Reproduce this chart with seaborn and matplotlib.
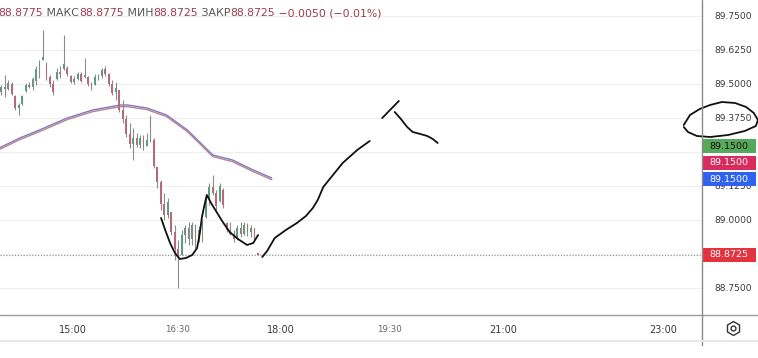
import numpy as np
import pandas as pd
import matplotlib
matplotlib.use("Agg")
import matplotlib.pyplot as plt
import seaborn as sns
from matplotlib.transforms import blended_transform_factory, offset_copy
from matplotlib.lines import Line2D
from matplotlib.patches import Rectangle

# ---------------- data ----------------
candle_start = "13:58"
candle_minutes = 3
opens = [89.4700, 89.4900, 89.4800, 89.5000, 89.4575, 89.4125, 89.4250, 89.4725, 89.4950, 89.4900,
         89.5100, 89.5550, 89.5875, 89.5750, 89.5250, 89.5000, 89.5175, 89.5450, 89.5550, 89.5600,
         89.5300, 89.5075, 89.5200, 89.5375, 89.5250, 89.5275, 89.5000, 89.4975, 89.5175, 89.5300,
         89.5550, 89.5350, 89.5000, 89.4700, 89.4775, 89.4050, 89.3725, 89.3175, 89.2800, 89.3000,
         89.2775, 89.3000, 89.2725, 89.2950, 89.2950, 89.1950, 89.1400, 89.0600, 89.0200, 89.0300,
         88.9575, 88.8950, 88.8725, 88.9450, 88.9700, 88.9300, 88.9800, 88.9200, 88.9650, 89.0100,
         89.0800, 89.1200, 89.1000, 89.0700, 89.1100, 88.9900, 88.9650, 88.9500, 88.9300, 88.9700,
         88.9500, 88.9800, 88.9550, 88.9700, 88.8775]
highs = [89.4975, 89.5325, 89.5150, 89.5075, 89.4600, 89.4300, 89.4600, 89.5025, 89.5075, 89.5250,
         89.5650, 89.5875, 89.6975, 89.5800, 89.5325, 89.5150, 89.5600, 89.5650, 89.6800, 89.5650,
         89.5325, 89.5300, 89.5450, 89.5450, 89.5950, 89.5300, 89.5075, 89.5375, 89.5375, 89.5600,
         89.5650, 89.5400, 89.5150, 89.5075, 89.4775, 89.4400, 89.3850, 89.3575, 89.3375, 89.3200,
         89.3125, 89.3125, 89.3200, 89.3850, 89.3025, 89.1950, 89.1475, 89.1000, 89.0800, 89.0300,
         88.9825, 88.9275, 88.9625, 88.9825, 88.9925, 88.9925, 88.9825, 88.9775, 89.0000, 89.0925,
         89.1350, 89.1650, 89.1100, 89.1350, 89.1175, 88.9925, 88.9925, 88.9625, 88.9825, 88.9925,
         88.9925, 88.9900, 88.9825, 88.9700, 88.8775]
lows = [89.4600, 89.4525, 89.4775, 89.4600, 89.4050, 89.3850, 89.4225, 89.4700, 89.4850, 89.4775,
        89.4950, 89.5225, 89.5875, 89.5150, 89.4900, 89.4600, 89.5150, 89.5225, 89.5525, 89.5300,
        89.5025, 89.5000, 89.5150, 89.5075, 89.5225, 89.4925, 89.4775, 89.4975, 89.5150, 89.5225,
        89.5300, 89.4925, 89.4600, 89.4400, 89.3975, 89.3575, 89.3050, 89.2650, 89.2200, 89.2675,
        89.2650, 89.2575, 89.2725, 89.2875, 89.1900, 89.1175, 89.0375, 89.0000, 89.0075, 88.9450,
        88.8525, 88.7500, 88.8725, 88.9150, 88.9075, 88.9075, 88.8975, 88.9200, 88.9200, 89.0075,
        89.0550, 89.0925, 89.0375, 89.0650, 89.0450, 88.9550, 88.9450, 88.9200, 88.9275, 88.9375,
        88.9450, 88.9400, 88.9375, 88.9275, 88.8725]
closes = [89.4900, 89.4800, 89.5050, 89.4650, 89.4125, 89.4225, 89.4550, 89.4950, 89.4900, 89.5175,
          89.5550, 89.5775, 89.6000, 89.5250, 89.5000, 89.4700, 89.5450, 89.5350, 89.5725, 89.5350,
          89.5075, 89.5200, 89.5375, 89.5125, 89.5325, 89.5000, 89.4850, 89.5275, 89.5325, 89.5525,
          89.5350, 89.5000, 89.4675, 89.4850, 89.4050, 89.3700, 89.3175, 89.2800, 89.3000, 89.2775,
          89.3000, 89.2700, 89.2950, 89.3000, 89.1975, 89.1400, 89.0600, 89.0200, 89.0650, 88.9575,
          88.8950, 88.8700, 88.9450, 88.9700, 88.9300, 88.9800, 88.9200, 88.9650, 88.9900, 89.0800,
          89.1200, 89.1000, 89.0500, 89.1250, 89.0550, 88.9650, 88.9500, 88.9300, 88.9700, 88.9500,
          88.9800, 88.9550, 88.9700, 88.9350, 88.8725]

ma_times = ["13:56", "14:14", "14:31", "14:55", "15:17", "15:41", "15:47", "16:04",
            "16:21", "16:39", "17:01", "17:18", "17:36", "17:52"]
ma_blue = [89.2647, 89.3015, 89.3309, 89.3750, 89.4044, 89.4228, 89.4228, 89.4118,
           89.3860, 89.3309, 89.2390, 89.2206, 89.1838, 89.1544]
ma_red = [89.2587, 89.2955, 89.3249, 89.3690, 89.3984, 89.4168, 89.4168, 89.4058,
          89.3800, 89.3249, 89.2330, 89.2146, 89.1778, 89.1484]

# hand-drawn strokes (hours, price)
cup_t = [16.27, 16.33, 16.40, 16.47, 16.54, 16.63, 16.72, 16.79, 16.83, 16.86, 16.89, 16.93,
         17.00, 17.08, 17.16, 17.26, 17.38, 17.51, 17.60, 17.67]
cup_p = [89.0074, 88.9632, 88.9154, 88.8787, 88.8566, 88.8603, 88.8713, 88.8971, 88.9522, 89.0110,
         89.0478, 89.0919, 89.0588, 89.0257, 88.9926, 88.9559, 88.9301, 88.9081, 88.9154, 88.9449]
rise_t = [17.73, 17.80, 17.91, 18.07, 18.23, 18.36, 18.46, 18.53, 18.61, 18.75, 18.89, 19.10, 19.28]
rise_p = [88.8640, 88.8860, 88.9338, 88.9632, 88.9890, 89.0147, 89.0441, 89.0735, 89.1213,
          89.1654, 89.2096, 89.2574, 89.2904]
tick_t = [19.46, 19.70]
tick_p = [89.3750, 89.4375]
fall_t = [19.64, 19.73, 19.82, 19.90, 20.01, 20.11, 20.19, 20.26]
fall_p = [89.3971, 89.3713, 89.3419, 89.3235, 89.3162, 89.3088, 89.2978, 89.2831]
ring_t = [23.81, 23.90, 24.04, 24.19, 24.36, 24.55, 24.71, 24.82, 24.88, 24.85, 24.69, 24.45,
          24.19, 24.00, 23.87, 23.81]
ring_p = [89.3493, 89.3860, 89.4081, 89.4228, 89.4338, 89.4301, 89.4154, 89.3934, 89.3676,
          89.3456, 89.3272, 89.3125, 89.3051, 89.3088, 89.3235, 89.3419]

y_ticks = [88.75, 88.875, 89.0, 89.125, 89.25, 89.375, 89.5, 89.625, 89.75]
y_tick_labels = ["88.7500", "", "89.0000", "89.1250", "", "89.3750", "89.5000", "89.6250", "89.7500"]
x_tick_pos = [15.0, 16.5, 18.0, 19.57, 21.2, 23.52]
x_tick_labels = ["15:00", "16:30", "18:00", "19:30", "21:00", "23:00"]
minor_time_labels = ["16:30", "19:30"]

last_price = 88.8725
tag_values = ["89.1500", "89.1500", "89.1500"]
tag_price = 89.15

header_parts = ["88.8775", " МАКС", "88.8775", " МИН", "88.8725", " ЗАКР", "88.8725", " −0.0050 (−0.01%)"]
header_is_value = [True, False, True, False, True, False, True, True]

# ---------------- styling ----------------
sns.set_theme(style="white")
plt.rcParams["font.family"] = ["DejaVu Sans"]

W, H = 758, 358
fig = plt.figure(figsize=(W / 100, H / 100), dpi=100)
fig.patch.set_facecolor("white")
ax = fig.add_axes([0, 43 / H, 702 / W, 315 / H])
ax.set_facecolor("white")

t0 = pd.Timestamp("2024-01-01 " + candle_start)
times = pd.date_range(t0, periods=len(opens), freq=f"{candle_minutes}min")
t_hours = times.hour + times.minute / 60.0
df = pd.DataFrame({"t": t_hours, "o": opens, "h": highs, "l": lows, "c": closes})

def to_h(s):
    hh, mm = s.split(":")
    return int(hh) + int(mm) / 60.0

ax.set_xlim(13.947, 24.073)
ax.set_ylim(88.6507, 89.8088)

# grid and ticks
ax.set_yticks(y_ticks)
ax.set_yticklabels(y_tick_labels)
ax.yaxis.tick_right()
ax.grid(axis="y", color="#efefef", lw=0.8)
ax.grid(axis="x", visible=False)
ax.tick_params(axis="y", length=0, pad=9, labelsize=6.6, labelcolor="#3a3a3a")
ax.set_xticks(x_tick_pos)
ax.set_xticklabels(x_tick_labels)
ax.tick_params(axis="x", length=0, pad=7, labelsize=7.0, labelcolor="#3a3a3a")
for lbl in ax.get_xticklabels():
    if lbl.get_text() in minor_time_labels:
        lbl.set_fontsize(6.2)
        lbl.set_color("#666666")
for s in ["top", "left", "bottom", "right"]:
    ax.spines[s].set_visible(False)

# last price dotted line
ax.axhline(last_price, color="#8a8a8a", lw=0.8, ls=(0, (1, 1.6)), zorder=1)

# moving averages
ma_h = [to_h(s) for s in ma_times]
sns.lineplot(x=ma_h, y=ma_blue, ax=ax, color="#7a7ac4", lw=1.0, sort=False, estimator=None, zorder=3)
sns.lineplot(x=ma_h, y=ma_red, ax=ax, color="#b98290", lw=1.0, sort=False, estimator=None, zorder=3)

# candles
ax.vlines(df["t"], df["l"], df["h"], color="#8c8c8c", lw=0.8, zorder=4)
up = df["c"] >= df["o"]
body_bottom = np.minimum(df["o"], df["c"])
body_h = np.maximum(np.abs(df["c"] - df["o"]), 0.002)
colors = np.where(up, "#5e9a80", "#b56a7c")
ax.bar(df["t"], body_h, bottom=body_bottom, width=0.026, color=colors, edgecolor="none", zorder=5)

# hand drawn strokes
for xs, ys in [(cup_t, cup_p), (rise_t, rise_p), (tick_t, tick_p), (fall_t, fall_p)]:
    sns.lineplot(x=xs, y=ys, ax=ax, color="#111111", lw=1.3, sort=False, estimator=None, zorder=8)

# price tags on the scale
blend = blended_transform_factory(ax.transAxes, ax.transData)
px_per_unit = 315 / (89.8088 - 88.6507)
tag_h = 14 / px_per_unit
tag_w = 54 / 702

def price_tag(price, text, face, tc, shift_px):
    tr = offset_copy(blend, fig=fig, x=0, y=shift_px, units="dots")
    ax.add_patch(Rectangle((1.0, price - tag_h / 2), tag_w, tag_h, transform=tr,
                           facecolor=face, edgecolor="none", clip_on=False, zorder=9))
    ax.text(1.0 + tag_w / 2, price, text, transform=tr, ha="center", va="center",
            fontsize=6.8, color=tc, clip_on=False, zorder=10)

price_tag(tag_price, tag_values[2], "#2f62f0", "white", 0)
price_tag(tag_price, tag_values[1], "#d92b5e", "white", 16.5)
price_tag(tag_price, tag_values[0], "#56a85a", "#111111", 33)
price_tag(last_price, f"{last_price:.4f}", "#e2333f", "white", 0)

# ring drawn around a price label
sns.lineplot(x=ring_t, y=ring_p, ax=ax, color="#111111", lw=1.3, sort=False, estimator=None,
             zorder=11, clip_on=False)

# frame lines
fig.add_artist(Line2D([0, 1], [1 - 315 / H] * 2, color="#9a9a9a", lw=1.0, transform=fig.transFigure))
fig.add_artist(Line2D([702 / W] * 2, [1 - 345 / H, 1], color="#8a8a8a", lw=1.0, transform=fig.transFigure))
fig.add_artist(Line2D([0, 1], [1 - 341 / H] * 2, color="#e8e8e8", lw=1.5, transform=fig.transFigure))

# gear icon
fig.add_artist(Line2D([733 / W], [1 - 328 / H], marker="h", markersize=10, mfc="none", mec="#333333",
                      mew=1.0, transform=fig.transFigure))
fig.add_artist(Line2D([733 / W], [1 - 328 / H], marker="o", markersize=3.5, mfc="none", mec="#333333",
                      mew=1.0, transform=fig.transFigure))

# header
prev = fig.text(-0.002, 1 - 13 / H, header_parts[0], fontsize=7.8, va="center", ha="left",
                color="#9b3b52" if header_is_value[0] else "#555555")
for part, isv in zip(header_parts[1:], header_is_value[1:]):
    prev = ax.annotate(part, xy=(1, 0), xycoords=prev, va="bottom", ha="left", fontsize=7.8,
                       color="#9b3b52" if isv else "#555555", annotation_clip=False)

fig.savefig("out.png", dpi=100, facecolor="white")
